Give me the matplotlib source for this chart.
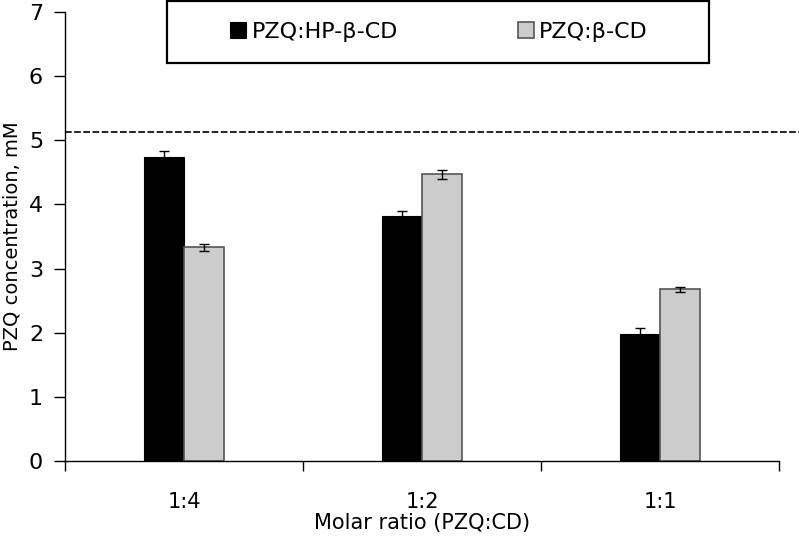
import numpy as np
import matplotlib
matplotlib.use('Agg')
import matplotlib.pyplot as plt
from matplotlib.patches import Rectangle

plt.rcParams['font.family'] = ['DejaVu Sans']

ratios = ['1:4', '1:2', '1:1']
hp_beta = [4.74, 3.82, 1.98]
hp_beta_err = [0.09, 0.08, 0.09]
beta = [3.33, 4.47, 2.68]
beta_err = [0.06, 0.07, 0.04]
solubility_line = 5.13

fig = plt.figure(figsize=(7.99, 5.43), dpi=100)
ax = fig.add_axes([65.3/799, 1-461.3/543, 714/799, 449.6/543])

x = np.arange(len(ratios))
w = 0.168
ax.bar(x - w/2, hp_beta, w, color='black', edgecolor='black', linewidth=0.8,
       label='PZQ:HP-β-CD')
ax.bar(x + w/2, beta, w, color='#cccccc', edgecolor='#555555', linewidth=1.2,
       label='PZQ:β-CD')
ax.errorbar(x - w/2, hp_beta, yerr=hp_beta_err, fmt='none', ecolor='black',
            elinewidth=1, capsize=3.6, capthick=1)
ax.errorbar(x + w/2, beta, yerr=beta_err, fmt='none', ecolor='black',
            elinewidth=1, capsize=3.6, capthick=1)

# saturation line, runs past the plot to the figure edge
ax.plot([-0.5, 2.7], [solubility_line]*2, color='black', linestyle=(0, (4, 1.5)),
        linewidth=1.2, clip_on=False)

ax.set_xlim(-0.5, 2.5)
ax.set_ylim(0, 7)
ax.set_yticks(range(8))
ax.set_xticks(x)
ax.set_xticklabels(ratios, fontsize=15)
ax.set_xticks([-0.5, 0.5, 1.5, 2.5], minor=True)
ax.tick_params(axis='x', which='major', length=0, pad=22)
ax.tick_params(axis='x', which='minor', length=7, width=1, direction='out')
ax.tick_params(axis='y', labelsize=16, length=8, width=1, direction='out', pad=8)
for s in ['top', 'right']:
    ax.spines[s].set_visible(False)
for s in ['left', 'bottom']:
    ax.spines[s].set_linewidth(1)

ax.set_xlabel('Molar ratio (PZQ:CD)', fontsize=15, labelpad=1)
ax.set_ylabel('PZQ concentration, mM', fontsize=14)
ax.yaxis.set_label_coords(-0.062, 0.5)

# legend box
fig.patches.append(Rectangle((167/799, 1-63/543), 542/799, 62/543,
                             transform=fig.transFigure, fill=False,
                             edgecolor='black', linewidth=1.6))
fig.legend(loc='center', bbox_to_anchor=(439/799, 1-32/543), ncol=2,
           frameon=False, fontsize=16, handlelength=0.72, handleheight=0.72,
           handletextpad=0.25, columnspacing=5.4)

fig.savefig('out.png', dpi=100)
